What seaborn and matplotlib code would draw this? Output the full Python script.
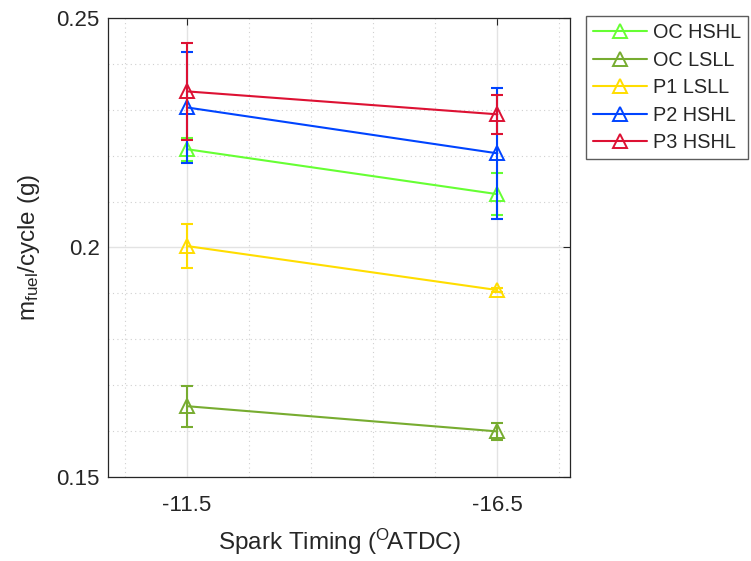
import numpy as np
import pandas as pd
import matplotlib
matplotlib.use("Agg")
import matplotlib.pyplot as plt
import seaborn as sns
from matplotlib.ticker import MultipleLocator, FixedLocator
from matplotlib.lines import Line2D

# ---- data ----
spark_timing = [-11.5, -16.5]
series_names = ["OC HSHL", "OC LSLL", "P1 LSLL", "P2 HSHL", "P3 HSHL"]
oc_hshl = [0.2214, 0.2116]
oc_lsll = [0.1654, 0.1599]
p1_lsll = [0.2003, 0.1907]
p2_hshl = [0.2305, 0.2205]
p3_hshl = [0.2340, 0.2290]
oc_hshl_err = [0.0025, 0.0046]
oc_lsll_err = [0.0045, 0.0019]
p1_lsll_err = [0.0047, 0.0004]
p2_hshl_err = [0.0121, 0.0143]
p3_hshl_err = [0.0105, 0.0042]
colors = ["#66FF33", "#77AC30", "#FFDD00", "#0044FF", "#DD1133"]

values = [oc_hshl, oc_lsll, p1_lsll, p2_hshl, p3_hshl]
errors = [oc_hshl_err, oc_lsll_err, p1_lsll_err, p2_hshl_err, p3_hshl_err]

rows = []
for name, vals in zip(series_names, values):
    for x, v in zip(spark_timing, vals):
        rows.append({"x": x, "y": v, "series": name})
df = pd.DataFrame(rows)

sns.set_style("white")
plt.rcParams["font.family"] = ["Liberation Sans", "DejaVu Sans"]
plt.rcParams["mathtext.fontset"] = "custom"
plt.rcParams["mathtext.rm"] = "Liberation Sans"
plt.rcParams["mathtext.it"] = "Liberation Sans:italic"

fig = plt.figure(figsize=(7.51, 5.61), dpi=100)
ax = fig.add_axes([0.1438, 0.150, 0.6152, 0.818])

# grids
ax.set_axisbelow(True)
ax.grid(which="major", color="#e3e3e3", linewidth=1.0, linestyle="-")
ax.grid(which="minor", color="#d0d0d0", linewidth=0.8, linestyle=(0, (1, 3)))

palette = dict(zip(series_names, colors))
sns.lineplot(data=df, x="x", y="y", hue="series", palette=palette,
             marker="^", markersize=10, markerfacecolor="none",
             markeredgewidth=1.4, linewidth=1.5, ax=ax, legend=False,
             sort=False)
for line, c in zip(ax.get_lines(), colors):
    line.set_markeredgecolor(c)
    line.set_markerfacecolor("none")

for name, vals, errs, c in zip(series_names, values, errors, colors):
    ax.errorbar(spark_timing, vals, yerr=errs, fmt="none", ecolor=c,
                elinewidth=1.5, capsize=4.5, capthick=1.5)

# legend
handles = [Line2D([0], [0], color=c, marker="^", markersize=10,
                  markerfacecolor="none", markeredgecolor=c,
                  markeredgewidth=1.4, linewidth=1.5) for c in colors]
leg = fig.legend(handles, series_names, loc="upper left",
                 bbox_to_anchor=(0.7803, 0.971), frameon=True, fontsize=14.3,
                 handlelength=2.7, handletextpad=0.3, borderpad=0.35,
                 labelspacing=0.43, fancybox=False, edgecolor="#333333",
                 borderaxespad=0)
leg.get_frame().set_linewidth(1.0)

ax.set_xlim(-10.23, -17.67)
ax.set_ylim(0.15, 0.25)
ax.xaxis.set_major_locator(FixedLocator(spark_timing))
ax.set_xticklabels(["-11.5", "-16.5"])
ax.xaxis.set_minor_locator(FixedLocator([-10.5, -12.5, -13.5, -14.5, -15.5, -17.5]))
ax.yaxis.set_major_locator(FixedLocator([0.15, 0.2, 0.25]))
ax.set_yticklabels(["0.15", "0.2", "0.25"])
ax.yaxis.set_minor_locator(MultipleLocator(0.01))

ax.tick_params(which="major", direction="in", length=5, width=0.8,
               labelsize=16, colors="#262626", top=True, right=True)
ax.tick_params(axis="x", which="major", pad=13)
ax.tick_params(axis="y", which="major", pad=6)
ax.tick_params(which="minor", direction="in", length=0, top=True, right=True)
for s in ax.spines.values():
    s.set_color("#262626")
    s.set_linewidth(0.9)

ax.set_xlabel(r"Spark Timing ($^{\mathrm{O}}\!$ATDC)", fontsize=17.5, color="#262626", labelpad=8)
ax.set_ylabel(r"m$_{\mathrm{fuel}}$/cycle (g)", fontsize=17.5, color="#262626", labelpad=10)

fig.savefig("out.png", dpi=100)
